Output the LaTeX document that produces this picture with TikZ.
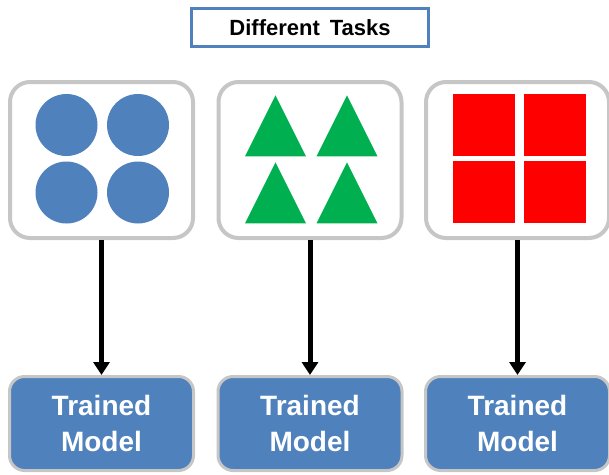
\documentclass[tikz,border=0pt]{standalone}
\usepackage{fontspec}
\setmainfont{Liberation Sans}
\usetikzlibrary{arrows.meta,shapes.geometric}
\definecolor{taskblue}{HTML}{4F81BD}
\definecolor{taskgreen}{HTML}{00B050}
\definecolor{taskred}{HTML}{FF0000}
\definecolor{framegray}{HTML}{C6C6C6}
\tikzset{
  titlebox/.style={draw=taskblue, line width=3pt, fill=white, minimum width=237pt, minimum height=38pt,
    inner sep=0pt, font=\fontsize{22}{24}\selectfont\bfseries},
  taskbox/.style={draw=framegray, line width=4pt, fill=white, rounded corners=20pt,
    minimum width=183pt, minimum height=156pt, inner sep=0pt},
  modelbox/.style={draw=framegray, line width=3pt, fill=taskblue, rounded corners=15pt,
    minimum width=184pt, minimum height=94pt, inner sep=0pt, text=white, align=center,
    font=\fontsize{28}{36}\selectfont\bfseries},
  dot/.style={circle, fill=taskblue, minimum size=62pt, inner sep=0pt},
  tri/.style={isosceles triangle, isosceles triangle apex angle=53, shape border rotate=90,
    fill=taskgreen, minimum width=61pt, minimum height=61pt, inner sep=0pt,
    isosceles triangle stretches, anchor=apex},
  sq/.style={rectangle, fill=taskred, minimum width=62pt, minimum height=62pt, inner sep=0pt},
  flow/.style={line width=5pt, -{Triangle[width=16pt,length=13pt]}},
}
\begin{document}
\begin{tikzpicture}[x=1pt, y=-1pt]
\useasboundingbox (0,0) rectangle (609,474);

% heading
\node[titlebox] (title) at (310,27.5) {Different\hspace{0.45em}Tasks};

% the three task boxes
\node[taskbox] (t1) at (101.5,160) {};
\node[taskbox] (t2) at (310,160) {};
\node[taskbox] (t3) at (517.5,160) {};

% circles
\node[dot] (c1) at (66.5,125) {};
\node[dot] (c2) at (138,125) {};
\node[dot] (c3) at (66.5,192.5) {};
\node[dot] (c4) at (138,192.5) {};

% triangles, placed by their apex
\node[tri] (g1) at (275.5,95) {};
\node[tri] (g2) at (347,95) {};
\node[tri] (g3) at (275.5,162) {};
\node[tri] (g4) at (347,162) {};

% squares
\node[sq] (r1) at (484,124.5) {};
\node[sq] (r2) at (555,124.5) {};
\node[sq] (r3) at (484,192) {};
\node[sq] (r4) at (555,192) {};

% trained models
\node[modelbox] (m1) at (101.5,423.5) {Trained\\Model};
\node[modelbox] (m2) at (310,423.5) {Trained\\Model};
\node[modelbox] (m3) at (517.5,423.5) {Trained\\Model};

% arrows
\draw[flow] (t1.south) -- (m1.north);
\draw[flow] (t2.south) -- (m2.north);
\draw[flow] (t3.south) -- (m3.north);
\end{tikzpicture}
\end{document}
